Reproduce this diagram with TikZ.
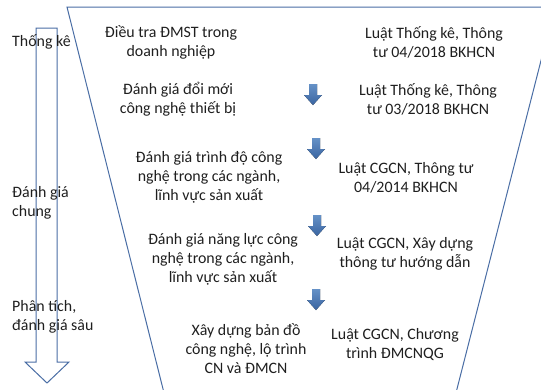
\documentclass[tikz,border=0pt]{standalone}
\usepackage{fontspec}
\setmainfont{Carlito}
\definecolor{funnelblue}{RGB}{74,110,165}
\definecolor{arrowblue}{RGB}{74,126,189}
\definecolor{arrowdark}{RGB}{58,100,160}
\begin{document}
\begin{tikzpicture}[x=1pt,y=-1pt,
  txt/.style={font=\fontsize{15.9}{19}\selectfont, inner sep=0pt, text=black!88},
  mid/.style={txt, align=center},
  lft/.style={txt, align=left, anchor=west},
  funnelline/.style={draw=funnelblue, line width=1pt, line join=miter},
  downarr/.pic={\fill[top color=arrowblue!85!white, bottom color=arrowdark]
     (-4,0) -- (4,0) -- (4,11) -- (9,11) -- (0,21) -- (-9,11) -- (-4,11) -- cycle;}
]
\useasboundingbox (0,0) rectangle (541,389);
\fill[white] (0,0) rectangle (541,389);
\begin{scope}
  \clip (0,0) rectangle (541,389);
  \draw[funnelline] (168.3,410) -- (67,7) -- (554.7,7) -- (451.6,410);
\end{scope}
% left big arrow
\draw[funnelline, fill=white] (36,28) -- (57,28) -- (57,362) -- (69,362) -- (47,383) -- (25,362) -- (36,362) -- cycle;
% left labels
\node[lft] (s1) at (12,42) {Thống kê};
\node[lft] (s2) at (12,202.5) {Đánh giá\\chung};
\node[lft] (s3) at (12,317) {Phân tích,\\đánh giá sâu};
% middle column
\node[mid] (m1) at (171,42.5) {Điều tra ĐMST trong\\doanh nghiệp};
\node[mid] (m2) at (178,99) {Đánh giá đổi mới\\công nghệ thiết bị};
\node[mid] (m3) at (209,177.5) {Đánh giá trình độ công\\nghệ trong các ngành,\\lĩnh vực sản xuất};
\node[mid] (m4) at (223,259) {Đánh giá năng lực công\\nghệ trong các ngành,\\lĩnh vực sản xuất};
\node[mid] (m5) at (246,349) {Xây dựng bản đồ\\công nghệ, lộ trình\\CN và ĐMCN};
% right column
\node[mid] (r1) at (434,42.5) {Luật Thống kê, Thông\\tư 04/2018 BKHCN};
\node[mid] (r2) at (428,99) {Luật Thống kê, Thông\\tư 03/2018 BKHCN};
\node[mid] (r3) at (406,177.5) {Luật CGCN, Thông tư\\04/2014 BKHCN};
\node[mid] (r4) at (405,254) {Luật CGCN, Xây dựng\\thông tư hướng dẫn};
\node[mid] (r5) at (395,344.5) {Luật CGCN, Chương\\trình ĐMCNQG};
% small blue arrows
\pic (a1) at (313,84) {downarr};
\pic (a2) at (316,138) {downarr};
\pic (a3) at (317,215) {downarr};
\pic (a4) at (316,289) {downarr};
\end{tikzpicture}
\end{document}
